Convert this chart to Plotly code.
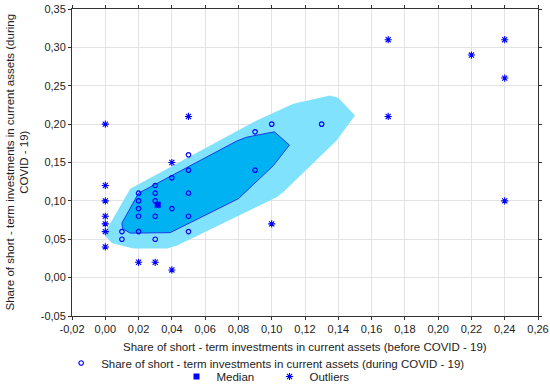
import plotly.graph_objects as go

# Data
inlier_x = [0.10, 0.13, 0.09, 0.05, 0.05, 0.09, 0.04, 0.03, 0.02, 0.03, 0.05, 0.02, 0.03,
            0.02, 0.04, 0.02, 0.03, 0.05, 0.01, 0.02, 0.05, 0.01, 0.03]
inlier_y = [0.20, 0.20, 0.19, 0.16, 0.14, 0.14, 0.13, 0.12, 0.11, 0.11, 0.11, 0.10, 0.10,
            0.09, 0.09, 0.08, 0.08, 0.08, 0.06, 0.06, 0.06, 0.05, 0.05]
median_x = [0.0315]
median_y = [0.095]
outlier_x = [0.17, 0.24, 0.22, 0.24, 0.17, 0.05, 0.00, 0.04, 0.00, 0.00, 0.24, 0.00, 0.00,
             0.00, 0.10, 0.00, 0.02, 0.03, 0.04]
outlier_y = [0.31, 0.31, 0.29, 0.26, 0.21, 0.21, 0.20, 0.15, 0.12, 0.10, 0.10, 0.08, 0.07,
             0.06, 0.07, 0.04, 0.02, 0.02, 0.01]
# bag (inner hull) and fence (outer hull) vertices
bag_x = [0.020, 0.010, 0.0104, 0.015, 0.039, 0.080, 0.101, 0.1106, 0.1016, 0.085, 0.079, 0.020]
bag_y = [0.110, 0.0711, 0.0638, 0.058, 0.0586, 0.1029, 0.146, 0.1727, 0.190, 0.183, 0.178, 0.110]
fence_x = [0.015, 0.0006, 0.000, 0.0042, 0.0168, 0.0372, 0.0432, 0.1032, 0.107, 0.139, 0.150,
           0.140, 0.135, 0.113, 0.091, 0.015]
fence_y = [0.1159, 0.0616, 0.0538, 0.0447, 0.0378, 0.0378, 0.042, 0.105, 0.1115, 0.1788, 0.2113,
           0.2344, 0.2374, 0.2266, 0.2048, 0.1159]

x_ticks = [-0.02 + 0.02 * i for i in range(15)]
x_ticktext = ["-0,02", "0,00", "0,02", "0,04", "0,06", "0,08", "0,10", "0,12", "0,14", "0,16",
              "0,18", "0,20", "0,22", "0,24", "0,26"]
y_ticks = [-0.05 + 0.05 * i for i in range(9)]
y_ticktext = ["-0,05", "0,00", "0,05", "0,10", "0,15", "0,20", "0,25", "0,30", "0,35"]
x_title = "Share of short - term investments in current assets (before COVID - 19)"
y_title = "Share of short - term investments in current assets (during<br>COVID - 19)"

FONT = "Liberation Sans, Arial, sans-serif"
BLUE = "#0000ff"
TXT = "#222222"

fig = go.Figure()
fig.add_trace(go.Scatter(x=fence_x, y=fence_y, fill="toself", fillcolor="#80e2fc",
                         line=dict(width=0), mode="lines", showlegend=False, hoverinfo="skip"))
fig.add_trace(go.Scatter(x=bag_x, y=bag_y, fill="toself", fillcolor="#00b2f2",
                         line=dict(width=1, color="#1a3ce6"), mode="lines", showlegend=False,
                         hoverinfo="skip"))
fig.add_trace(go.Scatter(x=inlier_x, y=inlier_y, mode="markers", legend="legend",
                         name="Share of short - term investments in current assets (during COVID - 19)",
                         marker=dict(symbol="circle-open", size=4.5, color=BLUE,
                                     line=dict(width=1.2, color=BLUE))))
fig.add_trace(go.Scatter(x=median_x, y=median_y, mode="markers", name="Median", legend="legend2",
                         marker=dict(symbol="square", size=6, color=BLUE)))
fig.add_trace(go.Scatter(x=outlier_x, y=outlier_y, mode="markers", name="Outliers", legend="legend2",
                         marker=dict(symbol="asterisk-open", size=6, color=BLUE,
                                     line=dict(width=1.1, color=BLUE))))

axis_common = dict(showgrid=True, gridcolor="#e3e3e3", gridwidth=1, zeroline=False,
                   showline=True, linecolor="#333333", linewidth=1, mirror="ticks",
                   ticks="outside", ticklen=3, tickcolor="#333333",
                   tickfont=dict(family=FONT, size=11, color=TXT))

fig.update_xaxes(range=[-0.02, 0.26], tickvals=x_ticks, ticktext=x_ticktext, **axis_common)
fig.update_yaxes(range=[-0.05, 0.35], tickvals=y_ticks, ticktext=y_ticktext, **axis_common)

fig.add_annotation(text=x_title, xref="paper", yref="paper", x=0.5, y=-(347 - 316) / 307,
                   xanchor="center", yanchor="middle", showarrow=False,
                   font=dict(family=FONT, size=11.5, color=TXT))
fig.add_annotation(text=y_title, xref="paper", yref="paper", x=(17 - 72) / 466, y=0.5,
                   xanchor="center", yanchor="middle", showarrow=False, textangle=-90,
                   font=dict(family=FONT, size=11.5, color=TXT))

legend_common = dict(orientation="h", xanchor="center", yanchor="middle",
                     font=dict(family=FONT, size=11.5, color=TXT),
                     itemwidth=30, bgcolor="rgba(0,0,0,0)", borderwidth=0,
                     xref="container", yref="container")

fig.update_layout(
    width=550, height=386,
    margin=dict(l=72, r=12, t=9, b=70, autoexpand=False),
    paper_bgcolor="white", plot_bgcolor="white",
    font=dict(family=FONT, size=11, color=TXT),
    legend=dict(x=0.483, y=1 - 363 / 386, **legend_common),
    legend2=dict(x=0.49, y=1 - 376.5 / 386, entrywidth=48, entrywidthmode="pixels",
                 **legend_common),
)

fig.write_html("out.html", config={"displayModeBar": False},
               post_script="document.body.style.margin='0px';")
